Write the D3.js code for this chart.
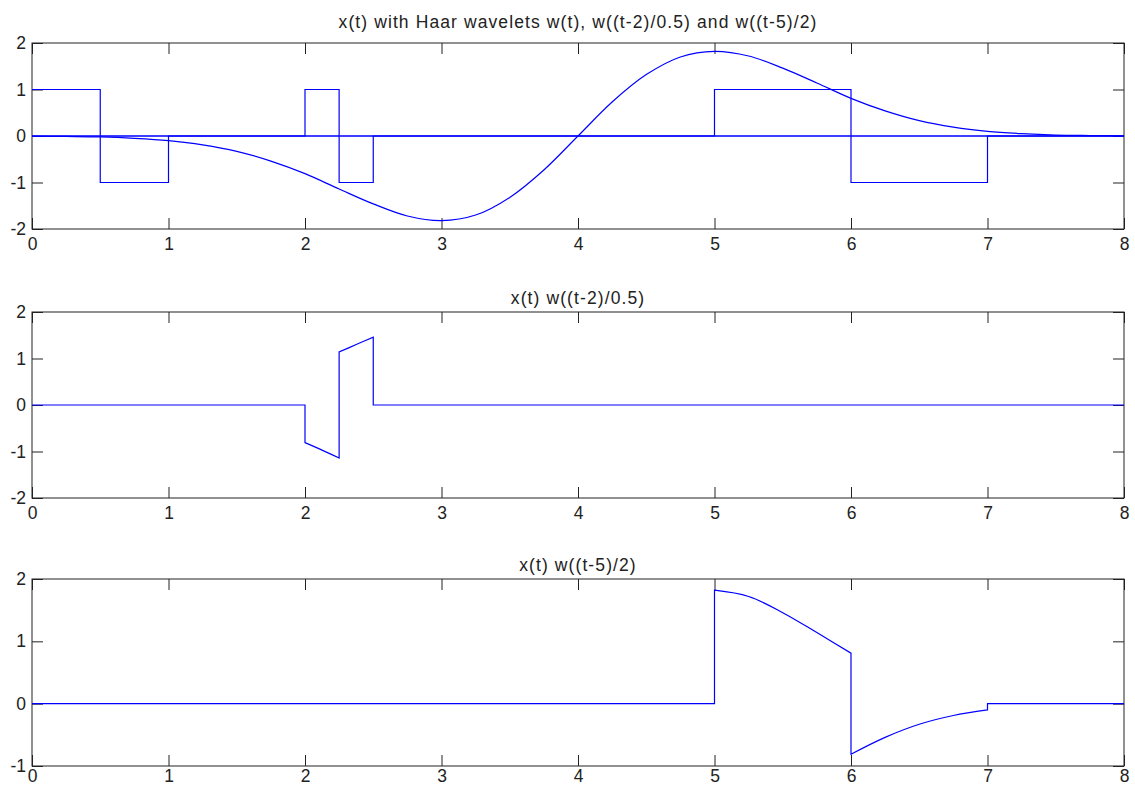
<!DOCTYPE html>
<html>
<head>
<meta charset="utf-8">
<script src="https://cdn.jsdelivr.net/npm/d3@7"></script>
<style>
  html, body { margin: 0; padding: 0; background: #fff; }
  svg { display: block; }
  text { font-family: "Liberation Sans", Arial, sans-serif; fill: #222; }
</style>
</head>
<body>
<svg id="chart" width="1135" height="788"></svg>
<script>
// ---------------- data ----------------
const titles = [
  "x(t) with Haar wavelets w(t), w((t-2)/0.5) and w((t-5)/2)",
  "x(t) w((t-2)/0.5)",
  "x(t) w((t-5)/2)"
];
const xTicks = [0, 1, 2, 3, 4, 5, 6, 7, 8];
const yTicksTop = [-2, -1, 0, 1, 2];
const yTicksMid = [-2, -1, 0, 1, 2];
const yTicksBot = [-1, 0, 1, 2];

// signal x(t), sampled every 0.25
const tSamples = [0, 0.25, 0.5, 0.75, 1, 1.25, 1.5, 1.75, 2, 2.25, 2.5, 2.75, 3, 3.25, 3.5, 3.75,
                  4, 4.25, 4.5, 4.75, 5, 5.25, 5.5, 5.75, 6, 6.25, 6.5, 6.75, 7, 7.25, 7.5, 7.75, 8];
const xValues = [-0.004, -0.01, -0.02, -0.05, -0.10, -0.19, -0.33, -0.54, -0.81, -1.14, -1.46, -1.72, -1.82, -1.70, -1.32, -0.73,
                 0, 0.73, 1.32, 1.70, 1.82, 1.72, 1.46, 1.14, 0.81, 0.54, 0.33, 0.19, 0.10, 0.05, 0.02, 0.01, 0.004];

// Haar wavelets (step corners)
const w0T = [0, 0.5, 0.5, 1, 1, 8];
const w0V = [1, 1, -1, -1, 0, 0];
const w1T = [0, 2, 2, 2.25, 2.25, 2.5, 2.5, 8];
const w1V = [0, 0, 1, 1, -1, -1, 0, 0];
const w2T = [0, 5, 5, 6, 6, 7, 7, 8];
const w2V = [0, 0, 1, 1, -1, -1, 0, 0];

// product x(t) w((t-2)/0.5), as pieces
const p1Pieces = [
  { t: [0, 2], v: [0, 0] },
  { t: [2, 2.125, 2.25], v: [-0.81, -0.97, -1.14] },
  { t: [2.25, 2.375, 2.5], v: [1.14, 1.30, 1.46] },
  { t: [2.5, 8], v: [0, 0] }
];
// product x(t) w((t-5)/2), as pieces
const p2Pieces = [
  { t: [0, 5], v: [0, 0] },
  { t: [5, 5.25, 5.5, 5.75, 6], v: [1.82, 1.72, 1.46, 1.14, 0.81] },
  { t: [6, 6.25, 6.5, 6.75, 7], v: [-0.81, -0.54, -0.33, -0.19, -0.10] },
  { t: [7, 8], v: [0, 0] }
];

// ---------------- layout ----------------
const svg = d3.select("#chart");
const left = 32, right = 1124;
const panels = [
  { top: 43,  bottom: 229, yDom: [-2, 2], yTicks: yTicksTop, titleY: 22,  xLabOff: 9 },
  { top: 312, bottom: 498, yDom: [-2, 2], yTicks: yTicksMid, titleY: 298, xLabOff: 9 },
  { top: 579, bottom: 766, yDom: [-1, 2], yTicks: yTicksBot, titleY: 565, xLabOff: 4 }
];
const blue = "#0000ff";
const tickLen = 11;
const fontSize = "17.5px";
const letterSp = "1.1px";

function drawPanel(p, idx) {
  const x = d3.scaleLinear().domain([0, 8]).range([left, right]);
  const y = d3.scaleLinear().domain(p.yDom).range([p.bottom, p.top]);
  const g = svg.append("g");

  // title
  g.append("text")
    .attr("x", (left + right) / 2)
    .attr("y", p.titleY)
    .attr("text-anchor", "middle")
    .attr("dominant-baseline", "central")
    .style("font-size", fontSize)
    .style("letter-spacing", letterSp)
    .text(titles[idx]);

  const fmt = d => String(d);
  const axB = d3.axisBottom(x).tickValues(xTicks).tickSizeInner(-tickLen).tickSizeOuter(0).tickFormat(fmt);
  const axT = d3.axisTop(x).tickValues(xTicks).tickSizeInner(-tickLen).tickSizeOuter(0).tickFormat("");
  const axL = d3.axisLeft(y).tickValues(p.yTicks).tickSizeInner(-tickLen).tickSizeOuter(0).tickFormat(fmt);
  const axR = d3.axisRight(y).tickValues(p.yTicks).tickSizeInner(-tickLen).tickSizeOuter(0).tickFormat("");

  const gb = g.append("g").attr("transform", `translate(0,${p.bottom})`).call(axB);
  const gt = g.append("g").attr("transform", `translate(0,${p.top})`).call(axT);
  const gl = g.append("g").attr("transform", `translate(${left},0)`).call(axL);
  const gr = g.append("g").attr("transform", `translate(${right},0)`).call(axR);
  [gb, gt, gl, gr].forEach(a => {
    a.select(".domain").remove();
    a.selectAll(".tick line").attr("stroke", "#222").attr("stroke-width", 1);
    a.selectAll(".tick text").style("font-size", fontSize).attr("fill", "#222")
      .style("font-family", "'Liberation Sans', Arial, sans-serif");
  });
  gb.selectAll(".tick text").attr("y", p.xLabOff).attr("dy", "0.71em");
  gl.selectAll(".tick text").attr("x", -6);

  // frame
  g.append("rect")
    .attr("x", left).attr("y", p.top)
    .attr("width", right - left).attr("height", p.bottom - p.top)
    .attr("fill", "none").attr("stroke", "#222").attr("stroke-width", 1);

  return { x, y, g };
}

const lineLinear = (x, y) => d3.line().x(d => x(d[0])).y(d => y(d[1])).curve(d3.curveLinear);
const lineSmooth = (x, y) => d3.line().x(d => x(d[0])).y(d => y(d[1])).curve(d3.curveCatmullRom.alpha(0.5));

function piecesPath(pieces, x, y) {
  let d = "";
  pieces.forEach((pc, i) => {
    const pts = pc.t.map((tv, k) => [tv, pc.v[k]]);
    let s = (pts.length > 2 ? lineSmooth(x, y) : lineLinear(x, y))(pts);
    if (i > 0) s = "L" + s.slice(1);
    d += s;
  });
  return d;
}

// panel 1
(function () {
  const { x, y, g } = drawPanel(panels[0], 0);
  [[w0T, w0V], [w1T, w1V], [w2T, w2V]].forEach(([tt, vv]) => {
    g.append("path")
      .attr("d", lineLinear(x, y)(tt.map((t, i) => [t, vv[i]])))
      .attr("fill", "none").attr("stroke", blue).attr("stroke-width", 1.2);
  });
  g.append("path")
    .attr("d", lineSmooth(x, y)(tSamples.map((t, i) => [t, xValues[i]])))
    .attr("fill", "none").attr("stroke", blue).attr("stroke-width", 1.2);
})();

// panel 2
(function () {
  const { x, y, g } = drawPanel(panels[1], 1);
  g.append("path")
    .attr("d", piecesPath(p1Pieces, x, y))
    .attr("fill", "none").attr("stroke", blue).attr("stroke-width", 1.2);
})();

// panel 3
(function () {
  const { x, y, g } = drawPanel(panels[2], 2);
  g.append("path")
    .attr("d", piecesPath(p2Pieces, x, y))
    .attr("fill", "none").attr("stroke", blue).attr("stroke-width", 1.2);
})();
</script>
</body>
</html>
